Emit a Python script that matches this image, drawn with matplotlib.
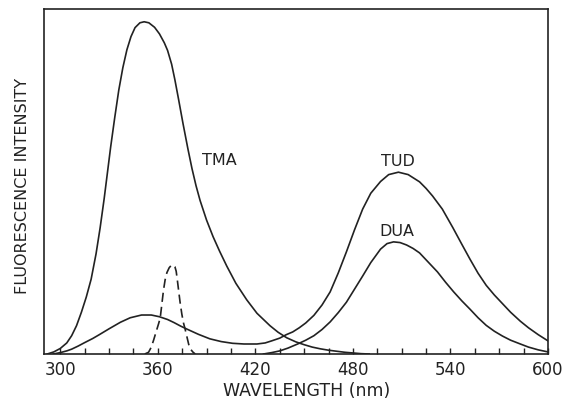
import matplotlib
matplotlib.use('Agg')
import matplotlib.pyplot as plt
from matplotlib.ticker import MultipleLocator

# values (wavelength in nm, intensity in arbitrary units 0-100)
tma_wl = [292, 296, 300, 304, 307, 310, 313, 316, 319, 322, 324.5, 327, 329, 331,
          333.5, 336, 338.5, 341, 343.5, 346, 349, 351.6, 354.5, 358, 361, 364,
          366, 368.5, 370.5, 372.7, 375.5, 378.5, 381, 383.5, 386, 390, 394, 398,
          402.4, 408, 414.7, 421, 429, 434, 439.3, 445, 450, 455, 460, 465, 470,
          475, 480, 485, 490]
tma_val = [0, 0.6, 1.6, 3.2, 5.3, 8.2, 12.1, 16.5, 21.7, 29, 36.5, 45, 52.5, 60,
           68.5, 76.5, 83, 88.2, 92, 94.6, 96, 96.3, 96, 94.7, 92.8, 90.2,
           88, 84, 79.5, 74, 66.8, 59.5, 53.8, 48.8, 44.5, 38.8, 34.0, 29.8,
           25.5, 20.5, 15.7, 11.8, 8.2, 6.3, 4.7, 3.5, 2.7, 2, 1.5, 1.1, 0.8,
           0.5, 0.3, 0.1, 0]

tud_wl = [295.7, 300, 304, 307, 311, 315, 320, 324, 330, 337, 343, 350, 356, 361,
          366, 370, 374, 378, 385, 392, 399, 406, 413, 421, 426, 430, 435, 439,
          443, 447, 451, 456, 461, 466, 471, 476, 481, 486, 491, 497, 502, 508,
          514, 521, 525, 529, 535, 541.5, 547, 552, 557, 562, 567, 572, 577,
          583, 588, 594, 600]
tud_val = [0, 0.4, 0.9, 1.4, 2.3, 3.3, 4.5, 5.6, 7.3, 9.2, 10.5, 11.3, 11.3, 10.8,
           10, 9.1, 8.1, 7.2, 5.7, 4.4, 3.6, 3.1, 2.9, 2.9, 3.2, 3.8, 4.6, 5.6,
           6.4, 7.6, 9, 11.2, 14.2, 18, 23.5, 29.6, 36, 42, 46.6, 50, 52, 52.7,
           52, 49.9, 48, 45.8, 42, 36.6, 31.8, 27.5, 23.4, 19.9, 17.1, 14.6, 12.1,
           9.5, 7.6, 5.6, 3.8]

dua_wl = [425, 430, 435, 440, 446, 451, 456, 461, 466, 471, 476, 481, 486, 491,
          497, 501, 505, 509, 513, 517, 521, 526, 532, 537, 542, 547, 552, 557,
          562, 567, 572, 577, 583, 588, 594, 600]
dua_val = [0, 0.4, 0.9, 1.7, 2.9, 4, 5.3, 7.1, 9.3, 12, 15, 18.8, 22.6, 26.5,
           30.4, 32, 32.5, 32.3, 31.6, 30.6, 29.3, 26.8, 23.8, 20.8, 18, 15.4, 13,
           10.5, 8.3, 6.6, 5.2, 4, 2.9, 2, 1.2, 0.6]

dash_wl = [352, 354.3, 356, 357.4, 359, 360.5, 361.5, 362.5, 363.5, 364.5, 365.6,
           367, 368.3, 369.4, 370.5, 371.3, 372, 372.7, 373.7, 374.8, 375.8,
           376.8, 378, 379, 380, 381.5, 383]
dash_val = [0, 0.5, 2, 4, 6.5, 8.8, 10.5, 14.5, 18.5, 21.5, 23.6,
            25, 25.7, 25.8, 25.3, 24, 21.5, 18.8, 15, 11.5, 9,
            7.2, 4.8, 2.8, 1.5, 0.6, 0]

labels = ['TMA', 'TUD', 'DUA']
label_pos = [(398, 56.5), (507.5, 56), (507, 35.7)]

fig = plt.figure(figsize=(5.63, 4.02), dpi=100)
ax = fig.add_axes([44/563, 47/402, 504/563, 345/402])

ink = '#222222'
lw = 1.2
ax.plot(tma_wl, tma_val, color=ink, lw=lw, solid_joinstyle='round')
ax.plot(tud_wl, tud_val, color=ink, lw=lw, solid_joinstyle='round')
ax.plot(dua_wl, dua_val, color=ink, lw=lw, solid_joinstyle='round')
ax.plot(dash_wl, dash_val, color=ink, lw=lw, dashes=(5.5, 3))

for txt, (x, y) in zip(labels, label_pos):
    ax.text(x, y, txt, fontsize=11.5, ha='center', va='center', color=ink)

ax.set_xlim(290, 600)
ax.set_ylim(0, 100)

ax.xaxis.set_major_locator(MultipleLocator(60))
ax.xaxis.set_minor_locator(MultipleLocator(15))
ax.tick_params(axis='x', which='both', direction='in', length=4.5, width=1,
               color=ink, top=False)
ax.tick_params(axis='x', which='major', labelsize=12, pad=4, labelcolor=ink)
ax.set_yticks([])

for s in ax.spines.values():
    s.set_linewidth(1.2)
    s.set_color(ink)

ax.set_xlabel('WAVELENGTH (nm)', fontsize=12.5, color=ink, va='center')
ax.xaxis.set_label_coords(0.522, -0.104)
ax.set_ylabel('FLUORESCENCE INTENSITY', fontsize=11.5, color=ink, va='center')
ax.yaxis.set_label_coords(-0.042, 0.49)

fig.savefig('out.png', dpi=100)
